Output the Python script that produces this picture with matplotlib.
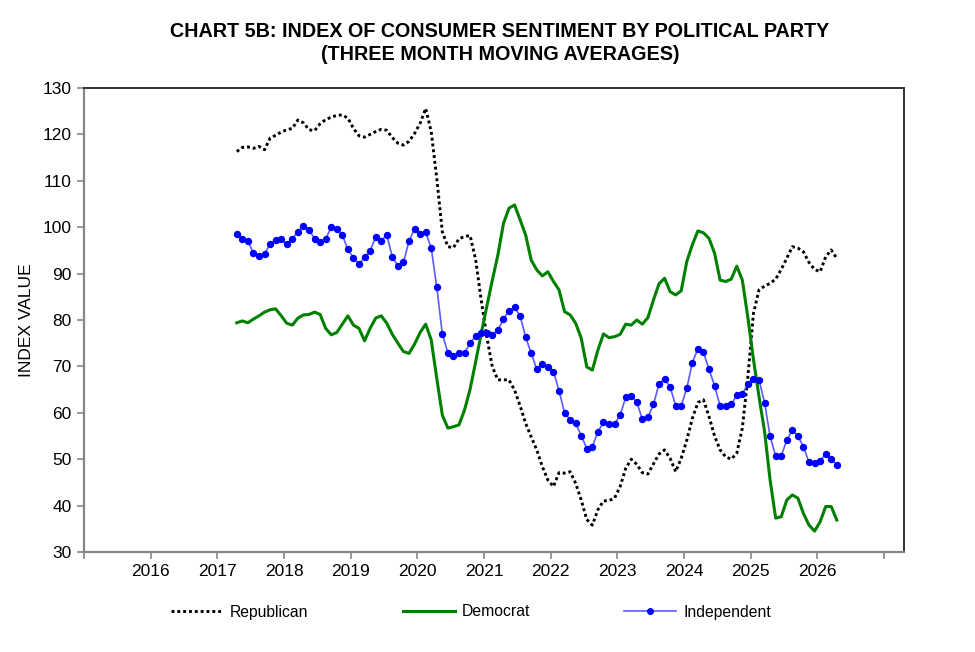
import numpy as np
import pandas as pd
import matplotlib
matplotlib.use("Agg")
from matplotlib import pyplot as plt
from matplotlib.lines import Line2D

plt.rcParams["font.family"] = ["Liberation Sans", "DejaVu Sans"]

# monthly three month moving averages, Apr 2017 .. Apr 2026
months = pd.date_range("2017-04-01", periods=109, freq="MS")

republican = [
    116.3, 117.2, 117.3, 117.0, 117.4, 116.7, 119.2, 119.8, 120.5,
    121.0, 121.3, 123.1, 122.5, 121.0, 120.8, 122.3, 123.2, 123.7, 124.1, 124.2, 123.5,
    121.3, 119.7, 119.4, 120.0, 120.6, 121.1, 120.9, 119.3, 118.1, 117.7, 118.5, 120.2,
    122.4, 125.6, 120.6, 110.5, 99.0, 95.8, 95.6, 97.5, 98.0, 98.2, 93.0, 84.3,
    76.4, 69.9, 67.1, 67.1, 67.1, 64.9, 61.5, 57.7, 54.8, 52.0, 48.4, 45.5,
    44.1, 47.1, 47.0, 47.3, 44.8, 41.2, 37.0, 35.8, 39.1, 41.0, 41.1, 41.6,
    44.1, 48.0, 50.0, 48.9, 47.1, 46.8, 49.0, 51.1, 52.0, 50.2, 47.3, 50.2,
    54.1, 58.8, 62.2, 62.8, 59.2, 55.0, 52.0, 50.5, 50.0, 51.3, 56.7, 67.8,
    81.4, 86.5, 87.3, 87.9, 88.8, 90.9, 93.3, 95.8, 95.5, 94.7, 92.4, 90.9,
    90.4, 93.6, 95.1, 93.3,
]

democrat = [
    79.4, 79.8, 79.4, 80.2, 80.9, 81.7, 82.2, 82.4, 80.9,
    79.3, 78.9, 80.4, 81.1, 81.2, 81.7, 81.2, 78.2, 76.8, 77.3, 79.1, 80.9,
    78.9, 78.2, 75.5, 78.2, 80.4, 80.9, 79.3, 76.9, 75.0, 73.2, 72.8, 74.8,
    77.3, 79.1, 75.7, 67.4, 59.5, 56.7, 57.0, 57.4, 60.6, 65.1, 71.0, 77.1,
    82.9, 88.6, 94.0, 100.8, 104.1, 104.8, 101.6, 98.3, 92.9, 90.8, 89.5, 90.4,
    88.3, 86.5, 81.8, 81.1, 79.3, 76.1, 69.9, 69.2, 73.5, 77.0, 76.2, 76.4,
    76.9, 79.1, 78.9, 80.0, 79.1, 80.5, 84.3, 87.8, 89.0, 86.1, 85.4, 86.3,
    92.6, 96.2, 99.2, 98.8, 97.6, 94.4, 88.6, 88.3, 88.8, 91.6, 88.6, 80.5,
    71.5, 63.5, 56.0, 45.5, 37.3, 37.6, 41.2, 42.3, 41.6, 38.3, 35.8, 34.5,
    36.5, 39.8, 39.8, 36.9,
]

independent = [
    98.5, 97.5, 97.0, 94.4, 93.7, 94.2, 96.4, 97.2, 97.4,
    96.4, 97.5, 99.0, 100.3, 99.5, 97.5, 96.8, 97.5, 100.0, 99.7, 98.3, 95.2,
    93.4, 92.0, 93.5, 94.9, 97.9, 97.1, 98.3, 93.6, 91.7, 92.4, 97.0, 99.7,
    98.5, 98.9, 95.5, 87.1, 77.0, 72.9, 72.3, 72.9, 72.9, 75.0, 76.6, 77.1,
    77.3, 76.8, 77.8, 80.2, 82.0, 82.7, 80.9, 76.3, 72.8, 69.4, 70.5, 69.9,
    68.9, 64.8, 60.0, 58.5, 57.7, 55.1, 52.3, 52.7, 55.9, 58.0, 57.5, 57.6,
    59.5, 63.3, 63.7, 62.3, 58.6, 59.0, 61.8, 66.2, 67.3, 65.6, 61.5, 61.5,
    65.3, 70.8, 73.8, 73.0, 69.4, 65.8, 61.5, 61.5, 61.8, 63.8, 64.0, 66.3,
    67.2, 67.1, 62.2, 54.9, 50.7, 50.7, 54.1, 56.3, 55.0, 52.7, 49.3, 49.1,
    49.6, 51.1, 50.0, 48.8,
]

year_ticks = list(range(2015, 2028))
year_labels = [""] + [str(y) for y in range(2016, 2027)] + [""]

# decimal year at the middle of each month
x = months.year + (months.month - 0.5) / 12.0

fig = plt.figure(figsize=(9.75, 6.52), dpi=100)
ax = fig.add_axes([84 / 975, 1 - 552 / 652, 820 / 975, 464 / 652])

dotted = (0, (1, 1.0))
ax.plot(x, republican, color="black", lw=2.1, linestyle=dotted,
        label="Republican")
ax.plot(x, democrat, color="#008000", lw=2.2, label="Democrat")
ax.plot(x, independent, color="#5a5aff", lw=1.2, marker="o", markersize=4.3,
        markerfacecolor="#0000ff", markeredgecolor="#0000ff",
        label="Independent")

ax.set_xlim(2015.0, 2027.3)
ax.set_ylim(30, 130)
ax.set_yticks(range(30, 131, 10))
ax.set_xticks(year_ticks)
ax.set_xticklabels(year_labels)
ax.tick_params(axis="both", labelsize=12.5, length=5, width=1.2,
               color="#868686", direction="out")
ax.tick_params(axis="x", pad=4)
ax.tick_params(axis="y", pad=4)

for side in ["left", "bottom"]:
    ax.spines[side].set_color("#868686")
    ax.spines[side].set_linewidth(1.6)
for side in ["top", "right"]:
    ax.spines[side].set_color("#333333")
    ax.spines[side].set_linewidth(1.4)

ax.set_ylabel("INDEX VALUE", fontsize=12.5, labelpad=6)

fig.text(500 / 975, 1 - 22 / 652,
         "CHART 5B: INDEX OF CONSUMER SENTIMENT BY POLITICAL PARTY\n"
         "(THREE MONTH MOVING AVERAGES)",
         ha="center", va="top", fontsize=14.2, fontweight="bold",
         linespacing=1.3)

handles = [
    Line2D([], [], color="black", lw=2.1, linestyle=dotted),
    Line2D([], [], color="#008000", lw=2.2),
    Line2D([], [], color="#5a5aff", lw=1.2, marker="o", markersize=4,
           markerfacecolor="#0000ff", markeredgecolor="#0000ff"),
]
fig.legend(handles, ["Republican", "Democrat", "Independent"],
           loc="center", bbox_to_anchor=(471 / 975, 1 - 612 / 652),
           ncol=3, frameon=False, fontsize=11.3, handlelength=3.3,
           handletextpad=0.45, columnspacing=6.0, numpoints=1)

fig.savefig("out.png", dpi=100)
